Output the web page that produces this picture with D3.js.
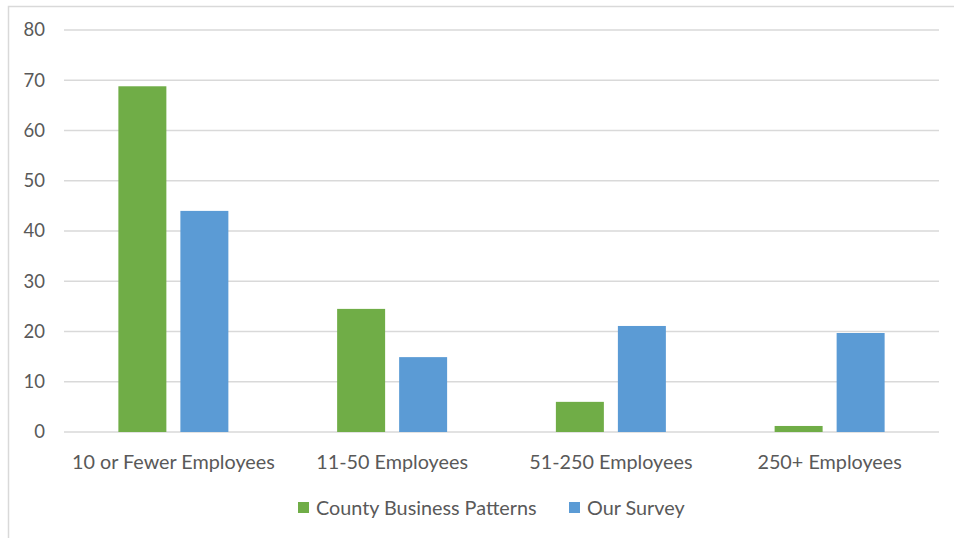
<!DOCTYPE html>
<html>
<head>
<meta charset="utf-8">
<script src="https://cdn.jsdelivr.net/npm/d3@7"></script>
<style>
  body { margin: 0; background: #fff; }
  svg { display: block; font-family: Lato, "Open Sans", sans-serif; }
</style>
</head>
<body>
<div id="container"></div>
<script>
// chart data
const categories = ["10 or Fewer Employees", "11-50 Employees", "51-250 Employees", "250+ Employees"];
const seriesNames = ["County Business Patterns", "Our Survey"];
const countyValues = [68.8, 24.5, 6.0, 1.2];
const surveyValues = [44.0, 14.9, 21.1, 19.7];
const yTicks = [0, 10, 20, 30, 40, 50, 60, 70, 80];
const colors = ["#70AD47", "#5B9BD5"];

const W = 954, H = 538;
const margin = { left: 64, right: 15, top: 30, bottom: 106 };

const svg = d3.select('#container').append('svg')
  .attr('width', W)
  .attr('height', H);

// outer chart frame (right/bottom edges fall outside the window)
svg.append('rect')
  .attr('x', 8.5).attr('y', 6.5)
  .attr('width', W + 20).attr('height', H + 20)
  .attr('fill', 'none')
  .attr('stroke', '#D9D9D9')
  .attr('stroke-width', 1.5);

const x0 = d3.scaleBand()
  .domain(categories)
  .range([margin.left, W - margin.right]);

const x1 = d3.scaleBand()
  .domain(seriesNames)
  .range([0, x0.bandwidth()])
  .paddingInner(0.226)
  .paddingOuter(0.877);

const y = d3.scaleLinear()
  .domain([0, 80])
  .range([H - margin.bottom, margin.top]);

// gridlines
svg.append('g')
  .selectAll('line')
  .data(yTicks)
  .enter().append('line')
    .attr('x1', margin.left)
    .attr('x2', W - margin.right)
    .attr('y1', d => y(d))
    .attr('y2', d => y(d))
    .attr('stroke', '#D9D9D9')
    .attr('stroke-width', 1.5);

// y tick labels
svg.append('g')
  .selectAll('text')
  .data(yTicks)
  .enter().append('text')
    .attr('x', 45)
    .attr('y', d => y(d))
    .attr('dy', '0.35em')
    .attr('text-anchor', 'end')
    .attr('fill', '#595959')
    .style('font-size', '18.5px')
    .text(d => d);

// bars
const rows = categories.map((c, i) => ({ cat: c, vals: [countyValues[i], surveyValues[i]] }));

const group = svg.append('g')
  .selectAll('g')
  .data(rows)
  .enter().append('g')
    .attr('transform', d => `translate(${x0(d.cat)},0)`);

group.selectAll('rect')
  .data(d => d.vals.map((v, j) => ({ name: seriesNames[j], value: v, j })))
  .enter().append('rect')
    .attr('x', d => x1(d.name))
    .attr('width', x1.bandwidth())
    .attr('y', d => y(d.value))
    .attr('height', d => y(0) - y(d.value))
    .attr('fill', d => colors[d.j]);

// category labels
svg.append('g')
  .selectAll('text')
  .data(categories)
  .enter().append('text')
    .attr('x', d => x0(d) + x0.bandwidth() / 2)
    .attr('y', 469)
    .attr('text-anchor', 'middle')
    .attr('fill', '#595959')
    .style('font-size', '19.8px')
    .text(d => d);

// legend
const legendItems = [
  { name: seriesNames[0], color: colors[0], x: 298 },
  { name: seriesNames[1], color: colors[1], x: 569 }
];
const legend = svg.append('g')
  .selectAll('g')
  .data(legendItems)
  .enter().append('g')
    .attr('transform', d => `translate(${d.x},0)`);

legend.append('rect')
  .attr('x', 0).attr('y', 502)
  .attr('width', 11).attr('height', 11)
  .attr('fill', d => d.color);

legend.append('text')
  .attr('x', 18)
  .attr('y', 515)
  .attr('fill', '#595959')
  .style('font-size', '19.8px')
  .text(d => d.name);
</script>
</body>
</html>
